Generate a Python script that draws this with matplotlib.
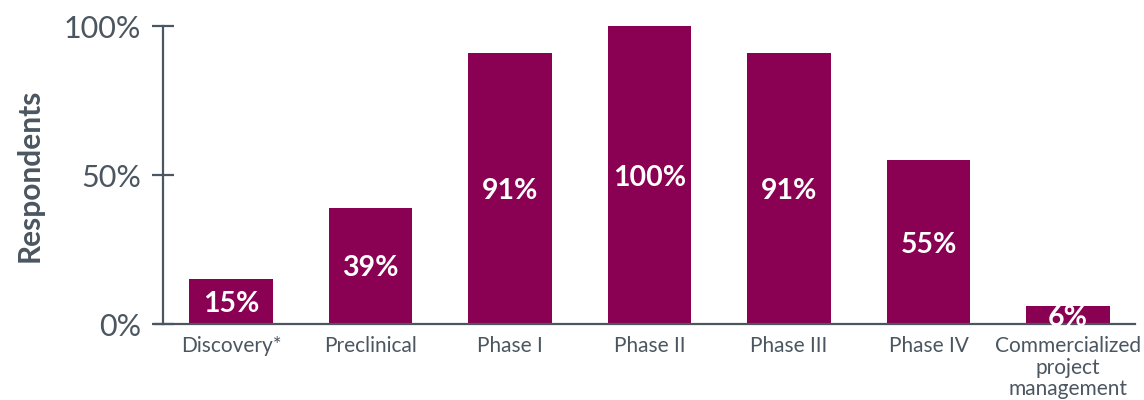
import matplotlib.pyplot as plt

plt.rcParams["font.family"] = ["Lato", "DejaVu Sans"]

categories = ["Discovery*", "Preclinical", "Phase I", "Phase II", "Phase III",
              "Phase IV", "Commercialized\nproject\nmanagement"]
values = [15, 39, 91, 100, 91, 55, 6]
labels = ["15%", "39%", "91%", "100%", "91%", "55%", "6%"]

bar_color = "#8A0052"
text_color = "#4B5660"

fig = plt.figure(figsize=(11.44, 4.0), dpi=100)
ax = fig.add_axes([155 / 1144, 1 - 324 / 400, (1135 - 155) / 1144, (324 - 26) / 400])

x = list(range(len(categories)))
bars = ax.bar(x, values, width=0.6, color=bar_color, zorder=2)

for b, lab in zip(bars, labels):
    ax.text(b.get_x() + b.get_width() / 2, b.get_height() / 2, lab,
            ha="center", va="center_baseline", color="white", fontsize=20.5,
            fontweight="bold", zorder=3)

ax.set_xlim(-0.545, 6.48)
ax.set_ylim(0, 100)

ax.spines["top"].set_visible(False)
ax.spines["right"].set_visible(False)
ax.spines["left"].set_position(("data", -0.487))
for s in ("left", "bottom"):
    ax.spines[s].set_color(text_color)
    ax.spines[s].set_linewidth(1.6)
ax.spines["left"].set_bounds(0, 100)

ax.set_yticks([0, 50, 100])
ax.set_yticklabels(["0%", "50%", "100%"])
ax.tick_params(axis="y", direction="inout", length=16, width=1.6,
               color=text_color, labelcolor=text_color, labelsize=22, pad=8)

ax.set_xticks(x)
ax.set_xticklabels(categories, linespacing=1.07)
ax.tick_params(axis="x", length=0, labelcolor=text_color, labelsize=15, pad=9)

ax.set_ylabel("Respondents", fontsize=21.5, fontweight="bold", color=text_color,
              labelpad=14)

fig.savefig("out.png", dpi=100)
